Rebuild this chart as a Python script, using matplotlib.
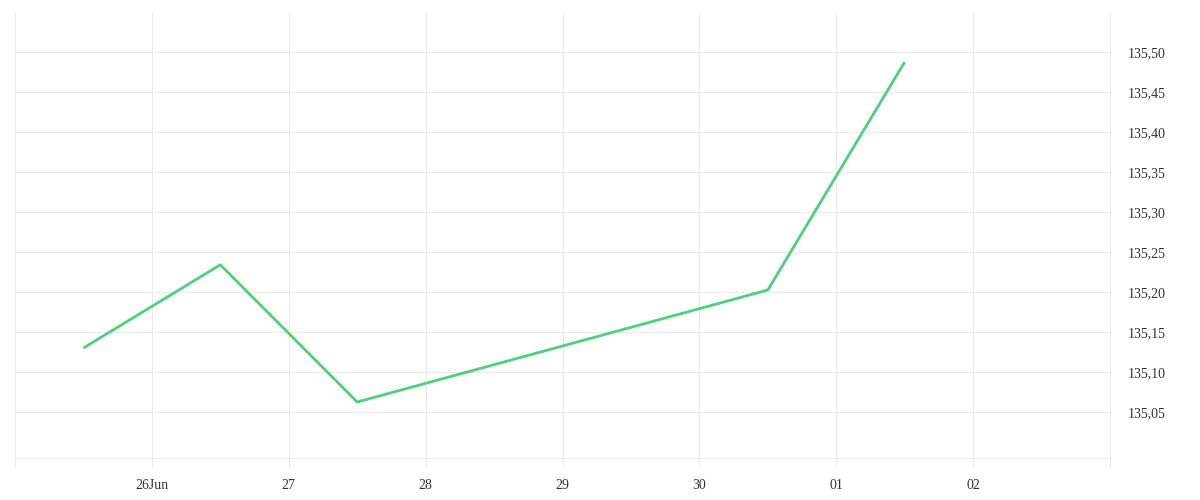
import matplotlib
matplotlib.use("Agg")
import matplotlib.pyplot as plt
import matplotlib.dates as mdates
import datetime as dt

# Data
dates = ["2024-06-25 12:00", "2024-06-26 12:00", "2024-06-27 12:00",
         "2024-06-30 12:00", "2024-07-01 12:00"]
values = [135.13, 135.234, 135.0625, 135.2025, 135.4875]
tick_days = ["2024-06-25", "2024-06-26", "2024-06-27", "2024-06-28", "2024-06-29",
             "2024-06-30", "2024-07-01", "2024-07-02", "2024-07-03"]
tick_labels = ["", "26Jun", "27", "28", "29", "30", "01", "02", ""]
y_ticks = [135.05, 135.10, 135.15, 135.20, 135.25, 135.30, 135.35, 135.40, 135.45, 135.50]

xd = [mdates.date2num(dt.datetime.strptime(d, "%Y-%m-%d %H:%M")) for d in dates]
xt = [mdates.date2num(dt.datetime.strptime(d, "%Y-%m-%d")) for d in tick_days]

W, H = 1200, 500
fig = plt.figure(figsize=(12, 5), dpi=100)
left, right, top, bottom = 15, 1110, 12, 458
ax = fig.add_axes([left / W, 1 - bottom / H, (right - left) / W, (bottom - top) / H])

grid_c = "#eaeaea"
px = 0.72
ax.plot(xd, values, color="#4cd27a", lw=2.0, solid_capstyle="butt", zorder=3)

ax.set_xlim(xt[0], xt[-1])
ax.set_ylim(135.5 - (bottom - 52) / 800, 135.55)

ax.set_xticks(xt)
ax.set_xticklabels(tick_labels)
ax.set_yticks(y_ticks)
ax.set_yticklabels([f"{v:.2f}".replace(".", ",") for v in y_ticks])

ax.yaxis.tick_right()
ax.grid(True, color=grid_c, lw=px)
ax.set_axisbelow(True)

ax.spines["top"].set_visible(False)
for s in ["left", "right", "bottom"]:
    ax.spines[s].set_color(grid_c)
    ax.spines[s].set_linewidth(px)

ax.tick_params(axis="x", length=10 * 0.72, width=px, color=grid_c, pad=8,
               labelcolor="#333333")
ax.tick_params(axis="y", length=0, pad=13, labelcolor="#333333")
for lab in ax.get_xticklabels() + ax.get_yticklabels():
    lab.set_fontfamily("Liberation Serif")
    lab.set_fontsize(10)

fig.savefig("out.png", dpi=100, facecolor="white")
